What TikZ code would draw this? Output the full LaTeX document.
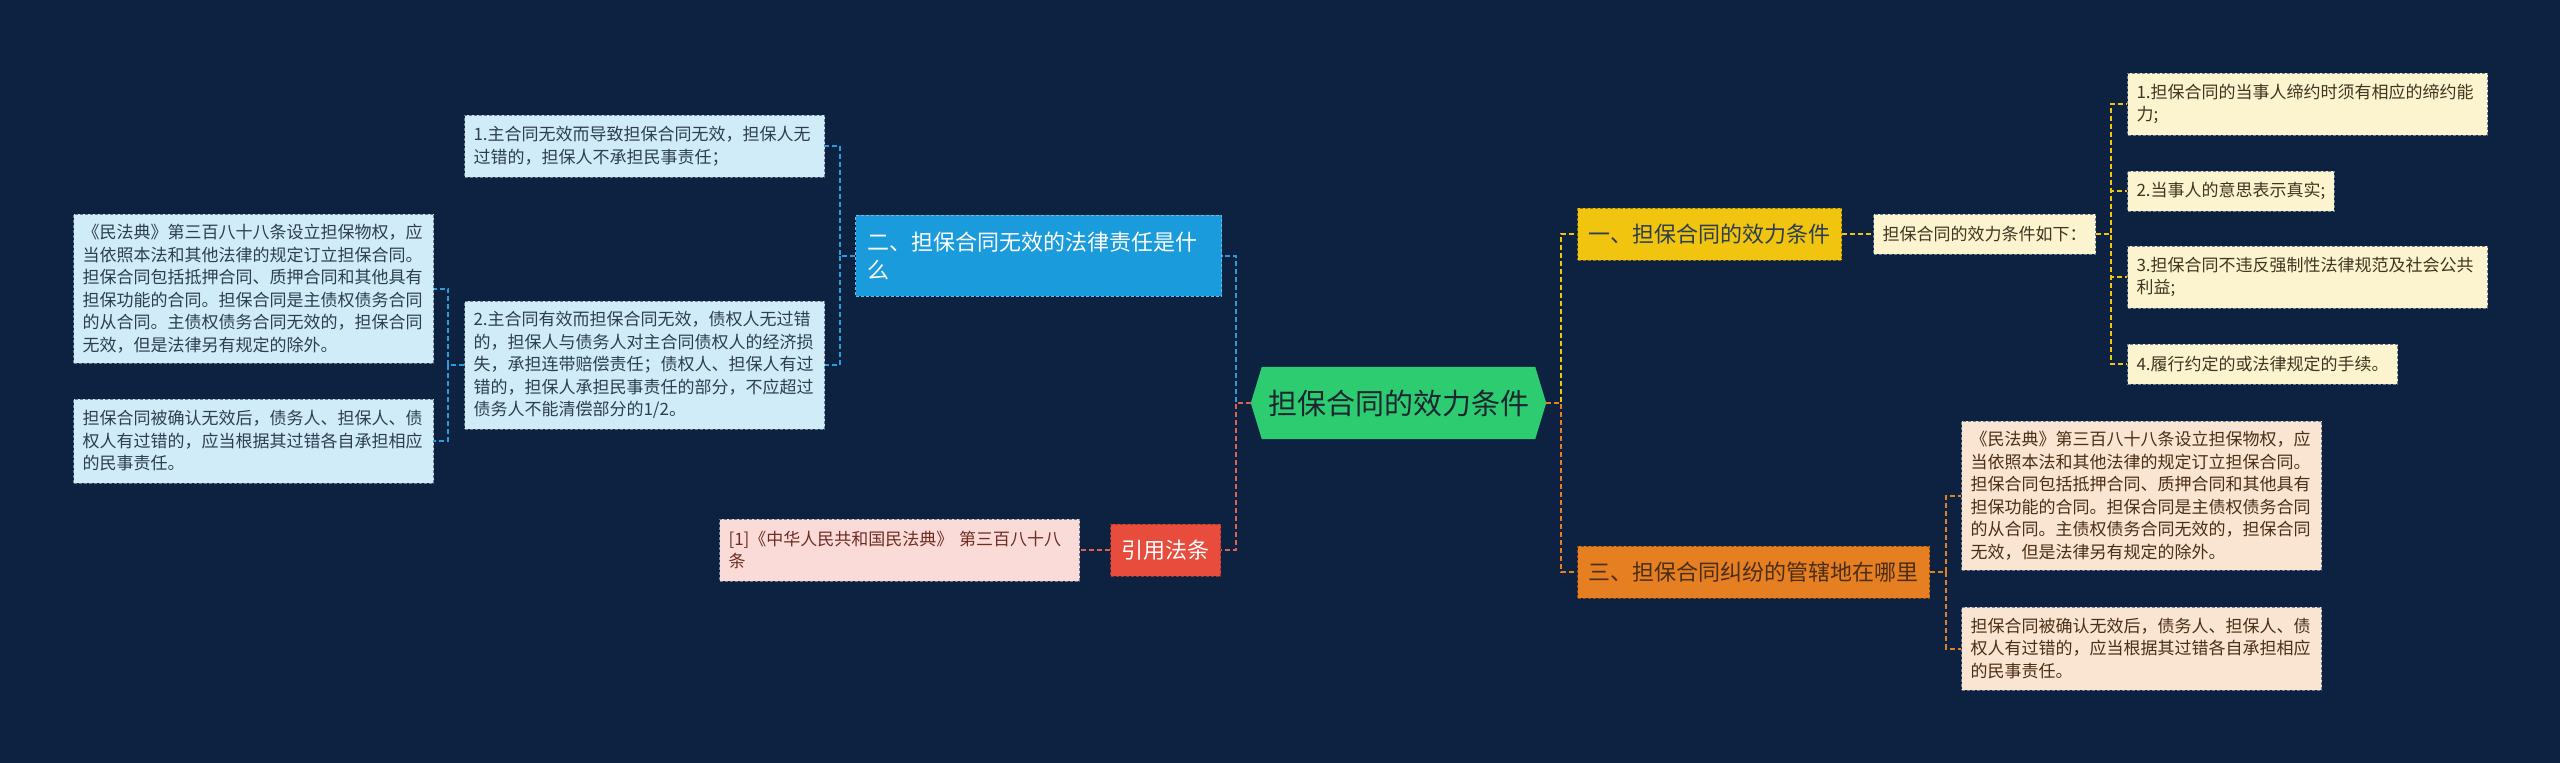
\documentclass[tikz,border=0pt]{standalone}
\usepackage{fontspec}
\setmainfont{Noto Sans CJK SC}
\usetikzlibrary{calc}
\pgfdeclarelayer{back}
\pgfdeclarelayer{bg}
\pgfsetlayers{back,bg,main}
\definecolor{bgc}{HTML}{0D2240}
\definecolor{rootg}{HTML}{2ECC71}
\definecolor{roott}{HTML}{1B2631}
\definecolor{blueb}{HTML}{1A9BDC}
\definecolor{bluel}{HTML}{D1ECF9}
\definecolor{bluet}{HTML}{2C3E50}
\definecolor{bluec}{HTML}{2D9CDB}
\definecolor{redb}{HTML}{E74C3C}
\definecolor{redl}{HTML}{FADBD8}
\definecolor{redt}{HTML}{6E2C22}
\definecolor{redc}{HTML}{E0604F}
\definecolor{yelb}{HTML}{F1C40F}
\definecolor{yell}{HTML}{FCF3CF}
\definecolor{yelt}{HTML}{3E3620}
\definecolor{orab}{HTML}{E67E22}
\definecolor{oral}{HTML}{FAE5D3}
\definecolor{orat}{HTML}{4A2E16}
\definecolor{bordg}{HTML}{6F7F8F}
\begin{document}
\begin{tikzpicture}[x=1pt,y=-1pt,
  conn/.style={line width=2pt, dash pattern=on 5pt off 3pt},
  box/.style={rectangle, anchor=west, inner ysep=3pt, line width=1pt, dash pattern=on 3pt off 2pt},
  leaf/.style={box, inner xsep=9pt, font=\fontsize{17pt}{22.5pt}\selectfont},
  wrap/.style={text width=342pt, align=left},
  lblue/.style={leaf, fill=bluel, draw=bordg, text=bluet},
  lred/.style={leaf, fill=redl, draw=bordg, text=redt},
  lyel/.style={leaf, fill=yell, draw=bordg, text=yelt},
  lora/.style={leaf, fill=oral, draw=bordg, text=orat},
  branch/.style={box, inner xsep=11pt, minimum height=52pt, font=\fontsize{22pt}{28pt}\selectfont},
]
\begin{pgfonlayer}{back}
\fill[bgc] (0,0) rectangle (2560,763);
\end{pgfonlayer}
\useasboundingbox (0,0) rectangle (2560,763);

% root
\node (root) [rectangle, minimum width=295pt, minimum height=72pt, inner sep=0pt, text=roott,
  font=\fontsize{29pt}{34pt}\selectfont] at (1398.5,403) {担保合同的效力条件};
\begin{pgfonlayer}{bg}
\fill[rootg] (root.west) -- ([xshift=11pt]root.north west) -- ([xshift=-11pt]root.north east)
  -- (root.east) -- ([xshift=-11pt]root.south east) -- ([xshift=11pt]root.south west) -- cycle;
\end{pgfonlayer}

% left branch two
\node (b2) [branch, fill=blueb, draw=bluec!70!white, text=white, text width=343pt, align=left,
  inner xsep=11.5pt, minimum height=81pt] at (855,255.5) {二、担保合同无效的法律责任是什\\么};
\node (a1) [lblue, wrap, minimum height=62pt] at (464,146)
  {1.主合同无效而导致担保合同无效，担保人无\\过错的，担保人不承担民事责任；};
\node (a2) [lblue, wrap, minimum height=128pt] at (464,365)
  {2.主合同有效而担保合同无效，债权人无过错\\的，担保人与债务人对主合同债权人的经济损\\失，承担连带赔偿责任；债权人、担保人有过\\错的，担保人承担民事责任的部分，不应超过\\债务人不能清偿部分的1/2。};
\node (l1) [lblue, wrap, minimum height=149pt] at (73,288.5)
  {《民法典》第三百八十八条设立担保物权，应\\当依照本法和其他法律的规定订立担保合同。\\担保合同包括抵押合同、质押合同和其他具有\\担保功能的合同。担保合同是主债权债务合同\\的从合同。主债权债务合同无效的，担保合同\\无效，但是法律另有规定的除外。};
\node (l2) [lblue, wrap, minimum height=84pt] at (73,441)
  {担保合同被确认无效后，债务人、担保人、债\\权人有过错的，应当根据其过错各自承担相应\\的民事责任。};

% reference branch
\node (ref) [branch, fill=redb, draw=redb!70!black, text=white] at (1110,550) {引用法条};
\node (r1) [lred, wrap, minimum height=62pt] at (719,550)
  {[1]《中华人民共和国民法典》 第三百八十八\\条};

% right branch one
\node (b1) [branch, fill=yelb, draw=yelb!60!black, text=bluet] at (1577,234) {一、担保合同的效力条件};
\node (k) [lyel, minimum height=40pt] at (1873,234) {担保合同的效力条件如下：};
\node (c1) [lyel, wrap, minimum height=62pt] at (2127,104)
  {1.担保合同的当事人缔约时须有相应的缔约能\\力;};
\node (c2) [lyel, minimum height=40pt] at (2127,191) {2.当事人的意思表示真实;};
\node (c3) [lyel, wrap, minimum height=62pt] at (2127,277)
  {3.担保合同不违反强制性法律规范及社会公共\\利益;};
\node (c4) [lyel, minimum height=40pt] at (2127,364) {4.履行约定的或法律规定的手续。};

% right branch three
\node (b3) [branch, fill=orab, draw=orab!60!black, text=orat] at (1577,572) {三、担保合同纠纷的管辖地在哪里};
\node (d1) [lora, wrap, minimum height=149pt] at (1961,495.5)
  {《民法典》第三百八十八条设立担保物权，应\\当依照本法和其他法律的规定订立担保合同。\\担保合同包括抵押合同、质押合同和其他具有\\担保功能的合同。担保合同是主债权债务合同\\的从合同。主债权债务合同无效的，担保合同\\无效，但是法律另有规定的除外。};
\node (d2) [lora, wrap, minimum height=83pt] at (1961,648.5)
  {担保合同被确认无效后，债务人、担保人、债\\权人有过错的，应当根据其过错各自承担相应\\的民事责任。};

% connectors
\draw[conn, bluec] (root.west) -- ++(-15,0) |- (b2.east);
\draw[conn, bluec] (b2.west) -- ++(-15.5,0) |- (a1.east);
\draw[conn, bluec] (b2.west) -- ++(-15.5,0) |- (a2.east);
\draw[conn, bluec] (a2.west) -- ++(-16,0) |- (l1.east);
\draw[conn, bluec] (a2.west) -- ++(-16,0) |- (l2.east);
\draw[conn, redc] (root.west) -- ++(-15,0) |- (ref.east);
\draw[conn, redc] (ref.west) -- (r1.east);
\draw[conn, yelb] (root.east) -- ++(15,0) |- (b1.west);
\draw[conn, yelb] (b1.east) -- (k.west);
\foreach \c in {c1,c2,c3,c4}
  \draw[conn, yelb] (k.east) -- ++(15,0) |- (\c.west);
\draw[conn, orab] (root.east) -- ++(15,0) |- (b3.west);
\draw[conn, orab] (b3.east) -- ++(16,0) |- (d1.west);
\draw[conn, orab] (b3.east) -- ++(16,0) |- (d2.west);
\end{tikzpicture}
\end{document}
